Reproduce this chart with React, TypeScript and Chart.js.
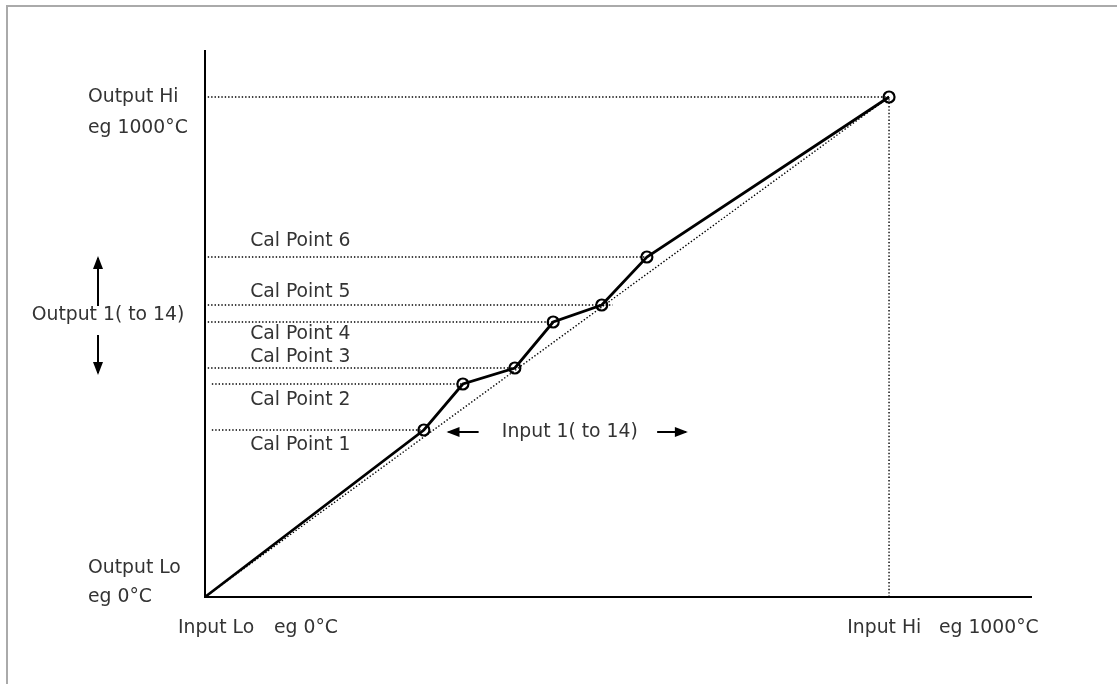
import React, { useEffect, useRef } from "react";
import { Chart, registerables } from "chart.js";

Chart.register(...registerables);

// Calibration curve (input, output) — origin, Cal Points 1..6, Hi
const inputValues = [0, 320, 377, 453, 509, 580, 646, 1000];
const outputValues = [0, 334, 426, 458, 550, 584, 680, 1000];
const pointRadii = [0, 5.5, 5.5, 5.5, 5.5, 5.5, 5.5, 5.5];

// Dotted reference lines to the output axis
const refLevels = [1000, 680, 584, 550, 458, 426, 334];
const refStarts = [4, 4, 4, 4, 4, 10, 10];
const refEnds = [1000, 646, 596, 509, 453, 377, 320];

// Axis extents
const xAxisMax = 1209;
const yAxisMax = 1094;

// Cal point labels (output value at label centre)
const calLabels = ["Cal Point 6", "Cal Point 5", "Cal Point 4", "Cal Point 3", "Cal Point 2", "Cal Point 1"];
const calLabelLevels = [712, 610, 526, 480, 394, 304];

const FONT = "18.8px 'DejaVu Sans', sans-serif";
const TEXT = "#333";

const annotationPlugin = {
  id: "annotations",
  afterDatasetsDraw(chart: any) {
    const { ctx } = chart;
    const xs = chart.scales.x;
    const ys = chart.scales.y;
    ctx.save();
    ctx.font = FONT;
    ctx.fillStyle = TEXT;
    ctx.textBaseline = "middle";
    ctx.textAlign = "left";
    const calX = xs.getPixelForValue(66);
    calLabels.forEach((t, i) => {
      ctx.fillText(t, calX, ys.getPixelForValue(calLabelLevels[i]));
    });
    const left = 88;
    ctx.fillText("Output Hi", left, ys.getPixelForValue(1000));
    ctx.fillText("eg 1000°C", left, ys.getPixelForValue(938));
    ctx.fillText("Output Lo", left, ys.getPixelForValue(58));
    ctx.fillText("eg 0°C", left, ys.getPixelForValue(0));
    const bottomY = ys.getPixelForValue(-62);
    ctx.fillText("Input Lo", 178, bottomY);
    ctx.fillText("eg 0°C", 274, bottomY);
    ctx.fillText("Input Hi", xs.getPixelForValue(939), bottomY);
    ctx.fillText("eg 1000°C", xs.getPixelForValue(1073), bottomY);

    // Output 1( to 14) with vertical arrows
    const midY = ys.getPixelForValue(564);
    ctx.textAlign = "center";
    ctx.fillText("Output 1( to 14)", 108, midY);
    const arrowX = 98;
    const drawArrow = (x1: number, y1: number, x2: number, y2: number) => {
      ctx.strokeStyle = "#000";
      ctx.fillStyle = "#000";
      ctx.lineWidth = 2;
      ctx.beginPath();
      ctx.moveTo(x1, y1);
      ctx.lineTo(x2, y2);
      ctx.stroke();
      const ang = Math.atan2(y2 - y1, x2 - x1);
      const L = 11, W = 5;
      ctx.beginPath();
      ctx.moveTo(x2 + Math.cos(ang) * 2, y2 + Math.sin(ang) * 2);
      ctx.lineTo(x2 - Math.cos(ang) * L + Math.sin(ang) * W, y2 - Math.sin(ang) * L - Math.cos(ang) * W);
      ctx.lineTo(x2 - Math.cos(ang) * L - Math.sin(ang) * W, y2 - Math.sin(ang) * L + Math.cos(ang) * W);
      ctx.closePath();
      ctx.fill();
      ctx.fillStyle = TEXT;
    };
    drawArrow(arrowX, midY - 9, arrowX, midY - 57);
    drawArrow(arrowX, midY + 20, arrowX, midY + 58);

    // Input 1( to 14) with horizontal arrows
    const inY = ys.getPixelForValue(330);
    ctx.textAlign = "left";
    ctx.fillText("Input 1( to 14)", xs.getPixelForValue(434), inY);
    drawArrow(xs.getPixelForValue(400), inY, xs.getPixelForValue(356), inY);
    drawArrow(xs.getPixelForValue(661), inY, xs.getPixelForValue(703), inY);
    ctx.restore();
  },
};

export default function App() {
  const ref = useRef<HTMLCanvasElement>(null);
  useEffect(() => {
    if (!ref.current) return;
    const dotted = {
      borderColor: "#000",
      borderWidth: 1.4,
      borderDash: [1.4, 2],
      pointRadius: 0,
      showLine: true,
      fill: false,
      clip: false as const,
    };
    const refSets = refLevels.map((lv, i) => ({
      ...dotted,
      data: [
        { x: refStarts[i], y: lv },
        { x: refEnds[i], y: lv },
      ],
    }));
    const chart = new Chart(ref.current, {
      type: "scatter",
      data: {
        datasets: [
          {
            data: inputValues.map((x, i) => ({ x, y: outputValues[i] })),
            showLine: true,
            borderColor: "#000",
            borderWidth: 2.8,
            pointRadius: pointRadii,
            pointBorderWidth: 2.2,
            pointBorderColor: "#000",
            pointBackgroundColor: "rgba(0,0,0,0)",
            clip: false,
            order: 0,
          } as any,
          { ...dotted, data: [{ x: 0, y: 0 }, { x: 1000, y: 1000 }] },
          { ...dotted, data: [{ x: 1000, y: 0 }, { x: 1000, y: 1000 }] },
          ...refSets,
          {
            data: [{ x: 0, y: yAxisMax }, { x: 0, y: 0 }, { x: xAxisMax, y: 0 }],
            showLine: true,
            borderColor: "#000",
            borderWidth: 2,
            pointRadius: 0,
            clip: false,
          } as any,
        ],
      },
      options: {
        animation: false,
        responsive: false,
        layout: { padding: { left: 205, top: 50, right: 85, bottom: 87 } },
        plugins: { legend: { display: false }, tooltip: { enabled: false } },
        scales: {
          x: { type: "linear", min: 0, max: xAxisMax, display: false },
          y: { type: "linear", min: 0, max: yAxisMax, display: false },
        },
      },
      plugins: [annotationPlugin],
    });
    return () => chart.destroy();
  }, []);
  return (
    <div style={{ position: "absolute", left: 0, top: 0, width: 1117, height: 684, background: "#fff" }}>
      <div
        style={{
          position: "absolute",
          left: 6,
          top: 5,
          right: -10,
          bottom: -10,
          borderTop: "2px solid #aaa",
          borderLeft: "2px solid #aaa",
        }}
      />
      <canvas ref={ref} width={1117} height={684} style={{ position: "absolute", left: 0, top: 0 }} />
    </div>
  );
}
